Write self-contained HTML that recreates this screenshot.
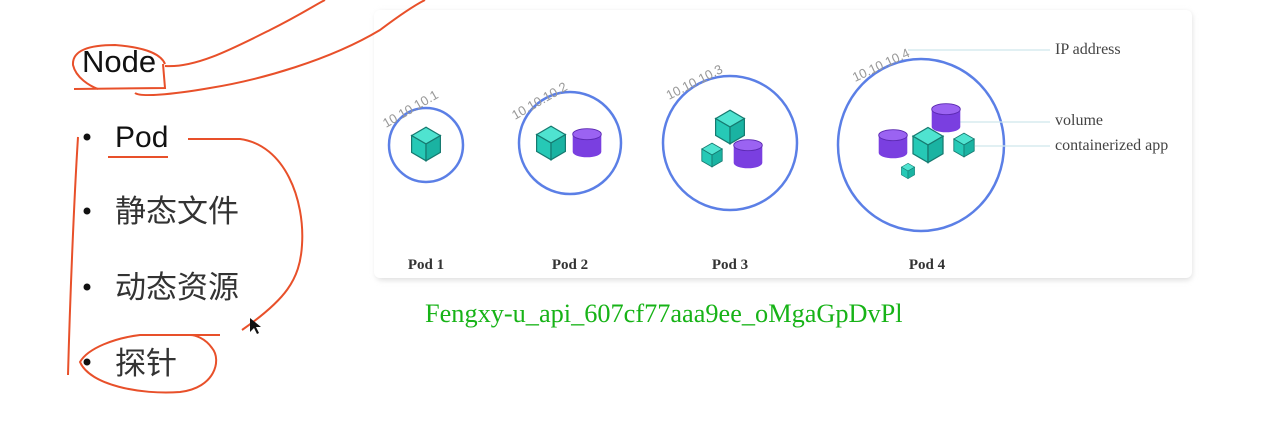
<!DOCTYPE html>
<html><head><meta charset="utf-8"><style>
html,body{margin:0;padding:0;background:#fff;width:1261px;height:442px;overflow:hidden}
svg{display:block}
</style></head><body>
<svg width="1261" height="442" viewBox="0 0 1261 442" xmlns="http://www.w3.org/2000/svg">
<defs>
<filter id="sh" x="-5%" y="-10%" width="110%" height="120%"><feGaussianBlur stdDeviation="3"/></filter>
<g id="cube">
<polygon points="0,-14 12,-7 0,0 -12,-7" fill="#4fe3d0" stroke="#167a70" stroke-width="1"/>
<polygon points="-12,-7 0,0 0,14 -12,7" fill="#26c9b6" stroke="#167a70" stroke-width="1"/>
<polygon points="12,-7 0,0 0,14 12,7" fill="#1ab3a2" stroke="#167a70" stroke-width="1"/>
</g>
<g id="cyl">
<path d="M-13,-8 L-13,8 A13,5 0 0 0 13,8 L13,-8 Z" fill="#7a3fe0"/>
<ellipse cx="0" cy="-8" rx="13" ry="5" fill="#9b63f2" stroke="#5a28b0" stroke-width="0.8"/>
</g>
</defs>
<rect x="376" y="12" width="816" height="268" rx="6" fill="#ddd" filter="url(#sh)"/>
<rect x="374" y="10" width="818" height="268" rx="6" fill="#fff"/>
<g fill="none" stroke="#5b7fe6" stroke-width="2.5">
<circle cx="426" cy="145" r="37"/>
<circle cx="570" cy="143" r="51"/>
<circle cx="730" cy="143" r="67"/>
<ellipse cx="921" cy="145" rx="83" ry="86"/>
</g>
<g stroke="#cfe8ec" stroke-width="1.2">
<line x1="908" y1="50" x2="1050" y2="50"/>
<line x1="945" y1="122" x2="1050" y2="122"/>
<line x1="975" y1="146" x2="1050" y2="146"/>
</g>
<g font-family="Liberation Sans, sans-serif" font-size="13" fill="#999">
<text transform="translate(386,128) rotate(-30)">10.10.10.1</text>
<text transform="translate(515,120) rotate(-30)">10.10.10.2</text>
<text transform="translate(669,100) rotate(-27)">10.10.10.3</text>
<text transform="translate(855,82) rotate(-25)">10.10.10.4</text>
</g>
<g transform="translate(426,144) scale(1.2)"><use href="#cube"/></g>
<g transform="translate(551,143) scale(1.2)"><use href="#cube"/></g>
<g transform="translate(587,143) scale(1.1)"><use href="#cyl"/></g>
<g transform="translate(730,127) scale(1.2)"><use href="#cube"/></g>
<g transform="translate(712,155) scale(0.85)"><use href="#cube"/></g>
<g transform="translate(748,154) scale(1.1)"><use href="#cyl"/></g>
<g transform="translate(946,118) scale(1.1)"><use href="#cyl"/></g>
<g transform="translate(893,144) scale(1.1)"><use href="#cyl"/></g>
<g transform="translate(928,145) scale(1.25)"><use href="#cube"/></g>
<g transform="translate(964,145) scale(0.85)"><use href="#cube"/></g>
<g transform="translate(908,171) scale(0.55)"><use href="#cube"/></g>
<g font-family="Liberation Serif, serif" font-size="16" fill="#444">
<text x="1055" y="54">IP address</text>
<text x="1055" y="125">volume</text>
<text x="1055" y="150">containerized app</text>
</g>
<g font-family="Liberation Serif, serif" font-size="15" font-weight="bold" fill="#333" text-anchor="middle">
<text x="426" y="269">Pod 1</text>
<text x="570" y="269">Pod 2</text>
<text x="730" y="269">Pod 3</text>
<text x="927" y="269">Pod 4</text>
</g>
<text x="425" y="322" font-family="Liberation Serif, serif" font-size="26.3" fill="#17b317">Fengxy-u_api_607cf77aaa9ee_oMgaGpDvPl</text>
<g font-family="Liberation Sans, 'Noto Sans CJK SC', sans-serif" fill="#111">
<text x="82" y="72" font-size="31">Node</text>
<text x="115" y="147" font-size="30">Pod</text>
<text x="115" y="222" font-size="31" fill="#333">静态文件</text>
<text x="115" y="298" font-size="31" fill="#333">动态资源</text>
<text x="115" y="374" font-size="31" fill="#333">探针</text>
</g>
<g fill="#111"><circle cx="87" cy="137" r="3.5"/><circle cx="87" cy="211" r="3.5"/><circle cx="87" cy="287" r="3.5"/><circle cx="87" cy="362" r="3.5"/></g>
<g fill="none" stroke="#e8502a" stroke-width="2">
<path d="M165,66 C195,68 230,50 270,30 C300,15 315,5 325,0"/>
<path d="M135,93 C140,97 170,95 210,88 C260,80 330,60 380,30 C400,15 415,5 425,0"/>
<path d="M165,64 C160,52 140,47 115,45 C90,45 72,50 73,65 C76,78 90,86 98,89"/>
<path d="M163,64 L165,88 L74,89"/>
<path d="M108,157 L168,157"/>
<path d="M188,139 L240,139 C285,145 305,200 302,245 C300,280 285,300 242,330"/>
<path d="M78,137 C74,200 70,300 68,375"/>
<path d="M220,335 L140,335 C115,338 88,348 80,362 C90,385 140,395 180,392 C215,388 222,360 212,348 C205,338 195,335 190,335"/>
</g>
<path d="M250,318 L250,332 L254,328 L257,334 L259,333 L256,327 L261,327 Z" fill="#111"/>
</svg>
</body></html>
